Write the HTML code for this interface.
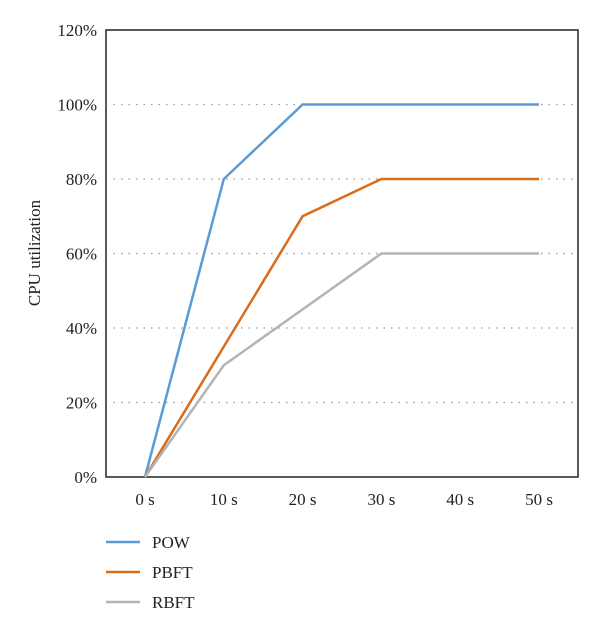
<!DOCTYPE html>
<html><head><meta charset="utf-8"><style>
body{margin:0;background:#fff;}
svg text{font-family:"Liberation Serif",serif;fill:#222;}
</style></head><body>
<svg id="chart" width="600" height="622">
<rect x="106" y="30" width="472" height="447" fill="none" stroke="#222" stroke-width="1.5"/>
<text x="40" y="253" font-size="17" text-anchor="middle" transform="rotate(-90 40 253)">CPU utilization</text>
<g id="grid"></g><g id="yticks"></g><g id="xticks"></g><g id="lines"></g><g id="legend"></g>
</svg>
<script>
const categories=["0 s","10 s","20 s","30 s","40 s","50 s"];
const yTickValues=[0,20,40,60,80,100,120];
const seriesNames=["POW","PBFT","RBFT"];
const powValues=[0,80,100,100,100,100];
const pbftValues=[0,35,70,80,80,80];
const rbftValues=[0,30,45,60,60,60];
const colors=["#5b9bd5","#d86c1c","#b4b4b4"];
const NS="http://www.w3.org/2000/svg";
const x0=145,dx=78.8,yb=477,yt=30;
const xs=i=>x0+i*dx;
const ys=v=>yb-(v/120)*(yb-yt);
function mk(tag,parent,attrs){const e=document.createElementNS(NS,tag);for(const k in attrs)e.setAttribute(k,attrs[k]);document.getElementById(parent).appendChild(e);return e;}
yTickValues.forEach(v=>{
  if(v>0&&v<120){const g=mk('line','grid',{x1:106,x2:578,y1:ys(v),y2:ys(v),stroke:'#999','stroke-width':1.2,'stroke-dasharray':'1.5 6'});
  
  }
  const t=mk('text','yticks',{x:97,y:ys(v)+6,'font-size':17,'text-anchor':'end'});
  t.textContent=v+'%';
  
  
});
categories.forEach((c,i)=>{
  const t=mk('text','xticks',{x:xs(i),y:505,'font-size':17,'text-anchor':'middle'});
  t.textContent=c;
  
  
});
[powValues,pbftValues,rbftValues].forEach((vals,s)=>{
  const p=mk('polyline','lines',{points:vals.map((v,i)=>xs(i)+','+ys(v)).join(' '),fill:'none',stroke:colors[s],'stroke-width':2.5,'stroke-linejoin':'miter'});
  
  
  const ly=542+s*30;
  const l=mk('line','legend',{x1:106,x2:140,y1:ly,y2:ly,stroke:colors[s],'stroke-width':2.5});
  
  
  const t=mk('text','legend',{x:152,y:ly+6,'font-size':17});
  t.textContent=seriesNames[s];
  
  
});
</script>
</body></html>
